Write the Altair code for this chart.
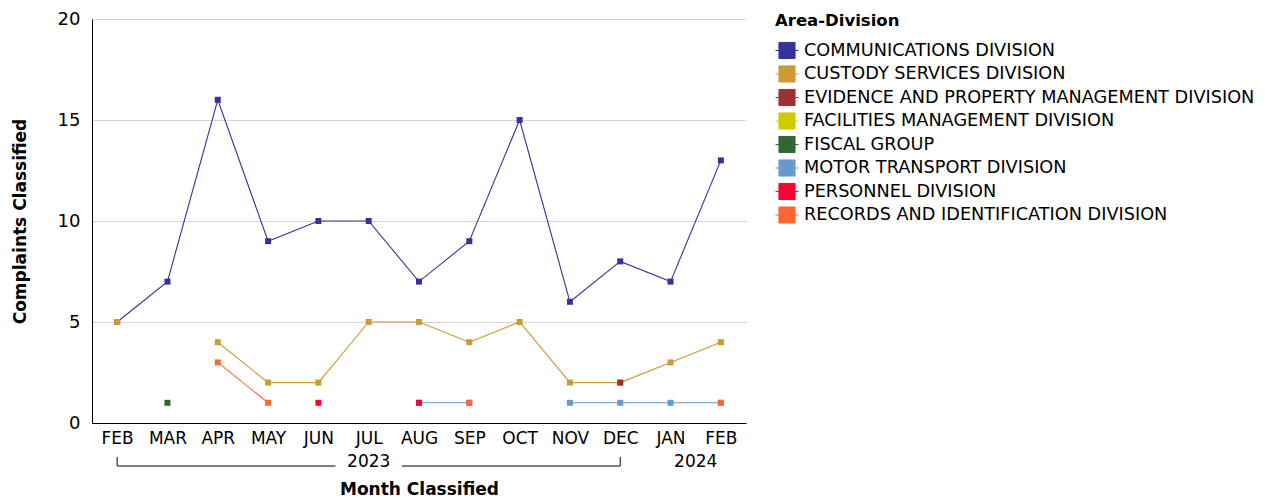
import altair as alt
import pandas as pd

# ---- data ----
month_labels = ["FEB", "MAR", "APR", "MAY", "JUN", "JUL", "AUG", "SEP", "OCT", "NOV", "DEC", "JAN", "FEB"]
divisions = [
    "COMMUNICATIONS DIVISION",
    "CUSTODY SERVICES DIVISION",
    "EVIDENCE AND PROPERTY MANAGEMENT DIVISION",
    "FACILITIES MANAGEMENT DIVISION",
    "FISCAL GROUP",
    "MOTOR TRANSPORT DIVISION",
    "PERSONNEL DIVISION",
    "RECORDS AND IDENTIFICATION DIVISION",
]
colors = ["#333399", "#CC9933", "#993333", "#CCCC00", "#336633", "#6699CC", "#FF0033", "#FF6633"]

communications = [5, 7, 16, 9, 10, 10, 7, 9, 15, 6, 8, 7, 13]
custody = [5, None, 4, 2, 2, 5, 5, 4, 5, 2, 2, 3, 4]
evidence = [None, None, None, None, None, None, None, None, None, None, 2, None, None]
facilities = [None] * 13
fiscal = [None, 1, None, None, None, None, None, None, None, None, None, None, None]
motor = [None, None, None, None, None, None, 1, 1, None, 1, 1, 1, 1]
personnel = [None, None, None, None, 1, None, 1, None, None, None, None, None, None]
records = [None, None, 3, 1, None, None, None, 1, None, None, None, None, 1]

year_labels = ["2023", "2024"]
year_start = [0, 11]
year_end = [10, 12]

series = [communications, custody, evidence, facilities, fiscal, motor, personnel, records]

rows = []
for k, (name, vals) in enumerate(zip(divisions, series)):
    seg = 0
    for i, v in enumerate(vals):
        if v is None:
            seg += 1
            continue
        rows.append({"division": name, "idx": i, "value": v, "seg": f"{name}-{seg}", "k": k})
df = pd.DataFrame(rows)

FONT = "DejaVu Sans"
H = 404
W = 654

color_scale = alt.Scale(domain=divisions, range=colors)
label_expr = "[" + ",".join(f"'{m}'" for m in month_labels) + "][datum.value]"

x_enc = alt.X(
    "idx:Q",
    scale=alt.Scale(domain=[-0.5, 12.5], nice=False, zero=False),
    axis=alt.Axis(
        values=list(range(13)), labelExpr=label_expr, title="Month Classified",
        grid=False, ticks=False, domainColor="black", labelFontSize=17,
        labelPadding=7, titlePadding=35, titleFontSize=17, titleFontWeight="bold",
        labelColor="black", titleColor="black", labelFont=FONT, titleFont=FONT,
    ),
)
y_enc = alt.Y(
    "value:Q",
    scale=alt.Scale(domain=[0, 20], nice=False),
    axis=alt.Axis(
        values=[0, 5, 10, 15, 20], title="Complaints Classified", grid=True,
        gridColor="#d4d4d4", ticks=False, domainColor="black", labelFontSize=18,
        labelPadding=12, titlePadding=28, titleFontSize=17, titleFontWeight="bold",
        labelColor="black", titleColor="black", labelFont=FONT, titleFont=FONT,
    ),
)

color_enc = alt.Color(
    "division:N", scale=color_scale,
    legend=alt.Legend(
        title="Area-Division", titleFontSize=16.5, titleFontWeight="bold",
        labelFontSize=17.7, labelFont=FONT, titleFont=FONT, symbolSize=529,
        symbolType="M-1,0H-0.7M0.7,0H1M-0.7,-0.7H0.7V0.7H-0.7Z",
        symbolStrokeWidth=1, rowPadding=0.5, labelLimit=700,
        titleColor="black", labelColor="black", titlePadding=9, labelOffset=5,
        orient="none", legendX=683, legendY=-6,
    ),
)

lines = alt.Chart(df).mark_line(strokeWidth=1.1).encode(
    x=x_enc, y=y_enc, color=color_enc, detail="seg:N",
)
points = alt.Chart(df).mark_point(shape="square", filled=True, size=36, opacity=1).encode(
    x=x_enc, y=y_enc, color=color_enc, order=alt.Order("k:Q"),
)

ydf = pd.DataFrame({"year": year_labels, "start": year_start, "end": year_end})
ydf["mid"] = (ydf["start"] + ydf["end"]) / 2
ydf["span"] = ydf["end"] - ydf["start"]
GAP = 0.66
bdf = ydf[ydf["span"] >= 2].copy()
left = pd.DataFrame({"a": bdf["start"], "b": bdf["mid"] - GAP})
right = pd.DataFrame({"a": bdf["mid"] + GAP, "b": bdf["end"]})
segs = pd.concat([left, right])
ends = pd.DataFrame({"p": list(bdf["start"]) + list(bdf["end"])})

xs = alt.Scale(domain=[-0.5, 12.5], nice=False, zero=False)
year_text = alt.Chart(ydf).mark_text(fontSize=17, font=FONT, color="black", baseline="middle").encode(
    x=alt.X("mid:Q", scale=xs), y=alt.value(H + 39), text="year:N"
)
hrule = alt.Chart(segs).mark_rule(color="black", strokeWidth=1).encode(
    x=alt.X("a:Q", scale=xs), x2="b:Q", y=alt.value(H + 43)
)
vrule = alt.Chart(ends).mark_rule(color="black", strokeWidth=1).encode(
    x=alt.X("p:Q", scale=xs), y=alt.value(H + 34), y2=alt.value(H + 43)
)

chart = alt.layer(lines, points, year_text, hrule, vrule).properties(
    width=W, height=H, padding={"left": 3, "top": 2, "right": 0, "bottom": 2}
).configure_view(stroke=None).configure_axis(labelFont=FONT, titleFont=FONT)

chart.save("out.html", embed_options={"renderer": "svg", "actions": False})
